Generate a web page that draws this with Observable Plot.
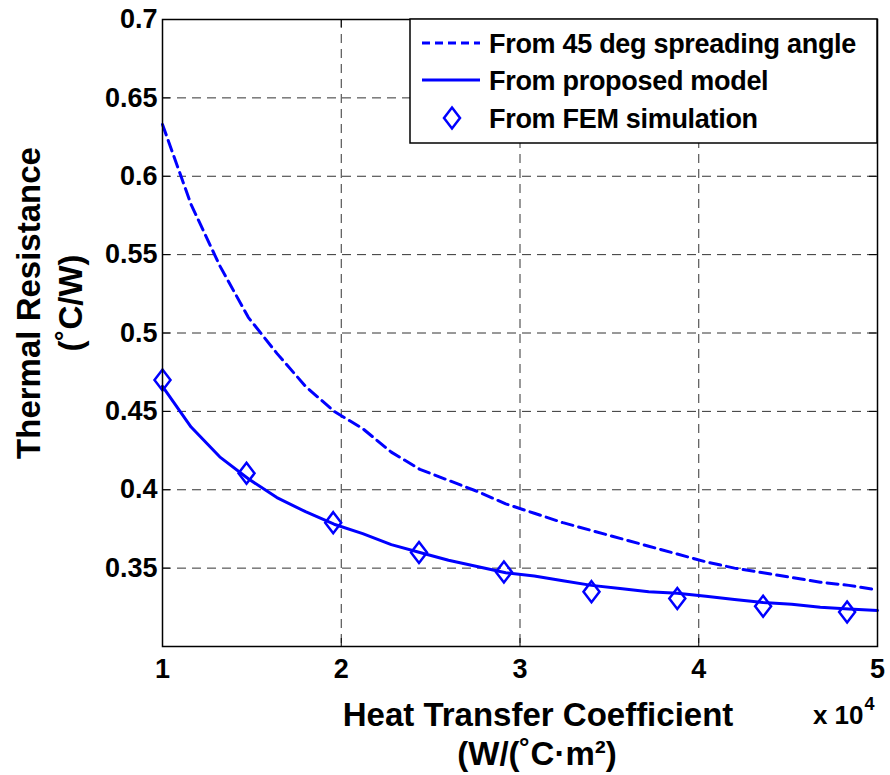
<!DOCTYPE html>
<html>
<head>
<meta charset="utf-8">
<script src="https://cdn.jsdelivr.net/npm/d3@7"></script>
<script src="https://cdn.jsdelivr.net/npm/@observablehq/plot@0.6"></script>
<style>
  html, body { margin: 0; padding: 0; background: #fff; }
  #chart { width: 890px; height: 775px; }
</style>
</head>
<body>
<div id="chart"></div>
<script>
// ---- data (heat transfer coefficient in units of 1e4 W/(˚C·m²)) ----
const xTicks = [1, 2, 3, 4, 5];
const yTicks = [0.35, 0.4, 0.45, 0.5, 0.55, 0.6, 0.65, 0.7];

const curveH = [1.00, 1.16, 1.32, 1.48, 1.64, 1.80, 1.96, 2.12, 2.28, 2.44, 2.60, 2.76, 2.92,
                3.08, 3.24, 3.40, 3.56, 3.72, 3.88, 4.04, 4.20, 4.36, 4.52, 4.68, 4.84, 5.00];
const spreadingR = [0.633, 0.582, 0.543, 0.510, 0.487, 0.466, 0.450, 0.439, 0.424, 0.413, 0.406, 0.399, 0.391,
                    0.385, 0.379, 0.374, 0.369, 0.364, 0.359, 0.354, 0.350, 0.347, 0.344, 0.341, 0.339, 0.336];
const modelR = [0.466, 0.440, 0.421, 0.407, 0.395, 0.386, 0.378, 0.372, 0.365, 0.360, 0.355, 0.351, 0.347,
                0.345, 0.342, 0.339, 0.337, 0.335, 0.334, 0.332, 0.330, 0.328, 0.327, 0.325, 0.324, 0.323];

const femH = [1.00, 1.47, 1.955, 2.435, 2.91, 3.40, 3.88, 4.36, 4.83];
const femR = [0.470, 0.4105, 0.379, 0.360, 0.3475, 0.335, 0.3306, 0.3257, 0.322];

const seriesNames = ["From 45 deg spreading angle", "From proposed model", "From FEM simulation"];

// ---- tables built from the arrays ----
const spreading = curveH.map((h, i) => ({h, r: spreadingR[i]}));
const model = curveH.map((h, i) => ({h, r: modelR[i]}));
const fem = femH.map((h, i) => ({h, r: femR[i]}));

const BLUE = "#0000ff";
const FONT = "'Liberation Sans', Arial, Helvetica, sans-serif";
const DIAMOND_PATH = "M0,-10.5L8,0L0,10.5L-8,0Z";
const diamond = {
  draw(ctx) {
    ctx.moveTo(0, -10.5); ctx.lineTo(8, 0); ctx.lineTo(0, 10.5); ctx.lineTo(-8, 0); ctx.closePath();
  }
};
const gridStyle = {stroke: "#333", strokeOpacity: 1, strokeWidth: 1, strokeDasharray: "9,6"};
const labelStyle = {text: d => d, fontWeight: "bold", textAnchor: "middle", lineAnchor: "middle", fill: "black"};

const chart = Plot.plot({
  width: 890,
  height: 775,
  marginLeft: 162,
  marginRight: 13,
  marginTop: 19,
  marginBottom: 129,
  x: {domain: [1, 5]},
  y: {domain: [0.3, 0.7]},
  style: {fontFamily: FONT, fontWeight: "bold", background: "white", color: "black", overflow: "visible"},
  marks: [
    Plot.gridX(xTicks.filter(d => d > 1 && d < 5), gridStyle),
    Plot.gridY(yTicks.filter(d => d < 0.7), gridStyle),
    // inward tick marks on all four sides
    Plot.tickY(yTicks, {y: d => d, insetRight: 707, stroke: "black", strokeWidth: 1}),
    Plot.tickY(yTicks, {y: d => d, insetLeft: 707, stroke: "black", strokeWidth: 1}),
    Plot.tickX(xTicks, {x: d => d, insetTop: 619, stroke: "black", strokeWidth: 1}),
    Plot.tickX(xTicks, {x: d => d, insetBottom: 619, stroke: "black", strokeWidth: 1}),
    Plot.line(spreading, {x: "h", y: "r", stroke: BLUE, strokeWidth: 3, strokeDasharray: "11,6"}),
    Plot.line(model, {x: "h", y: "r", stroke: BLUE, strokeWidth: 3}),
    Plot.dot(fem, {x: "h", y: "r", symbol: diamond, stroke: BLUE, strokeWidth: 2.5, fill: "none"}),
    Plot.frame({stroke: "black", strokeWidth: 1.5}),
    Plot.axisX({ticks: xTicks, tickSize: 0, tickPadding: 12, fontSize: 27, tickFormat: d => String(d), label: null}),
    Plot.axisY({ticks: yTicks, tickSize: 0, tickPadding: 5, fontSize: 27, tickFormat: d => String(d), label: null}),
    // axis titles
    Plot.text(["Thermal Resistance"], {...labelStyle, frameAnchor: "left", rotate: -90, fontSize: 33, dx: -133, dy: -30}),
    Plot.text(["(˚C/W)"], {...labelStyle, frameAnchor: "left", rotate: -90, fontSize: 33, dx: -91, dy: -30}),
    Plot.text(["Heat Transfer Coefficient"], {...labelStyle, frameAnchor: "bottom", fontSize: 33, dx: 18, dy: 69}),
    Plot.text(["(W/(˚C·m²)"], {...labelStyle, frameAnchor: "bottom", fontSize: 33, dx: 17, dy: 108}),
    Plot.text(["x 10"], {...labelStyle, frameAnchor: "bottom-right", textAnchor: "end", fontSize: 26, dx: -14, dy: 69}),
    Plot.text(["4"], {...labelStyle, frameAnchor: "bottom-right", textAnchor: "start", fontSize: 18, dx: -13, dy: 58})
  ]
});

document.getElementById("chart").appendChild(chart);

// ---- legend (top-right, inside plot frame) ----
const svg = d3.select(chart);
const lg = svg.append("g").attr("font-family", FONT).attr("font-weight", "bold")
  .attr("font-size", 27).attr("text-anchor", "start");
lg.append("rect").attr("x", 410).attr("y", 19).attr("width", 467).attr("height", 124)
  .attr("fill", "white").attr("stroke", "black").attr("stroke-width", 1.5);
const rows = [43, 80, 118];
lg.append("line").attr("x1", 422).attr("x2", 480).attr("y1", rows[0]).attr("y2", rows[0])
  .attr("stroke", BLUE).attr("stroke-width", 3).attr("stroke-dasharray", "8,5");
lg.append("line").attr("x1", 422).attr("x2", 480).attr("y1", rows[1]).attr("y2", rows[1])
  .attr("stroke", BLUE).attr("stroke-width", 3);
lg.append("path").attr("d", DIAMOND_PATH).attr("transform", `translate(452,${rows[2]})`)
  .attr("fill", "none").attr("stroke", BLUE).attr("stroke-width", 2.5);
seriesNames.forEach((name, i) => {
  lg.append("text").attr("x", 489).attr("y", rows[i] + 10).attr("fill", "black")
    .attr("text-anchor", "start").attr("letter-spacing", "-0.3").text(name);
});
</script>
</body>
</html>
